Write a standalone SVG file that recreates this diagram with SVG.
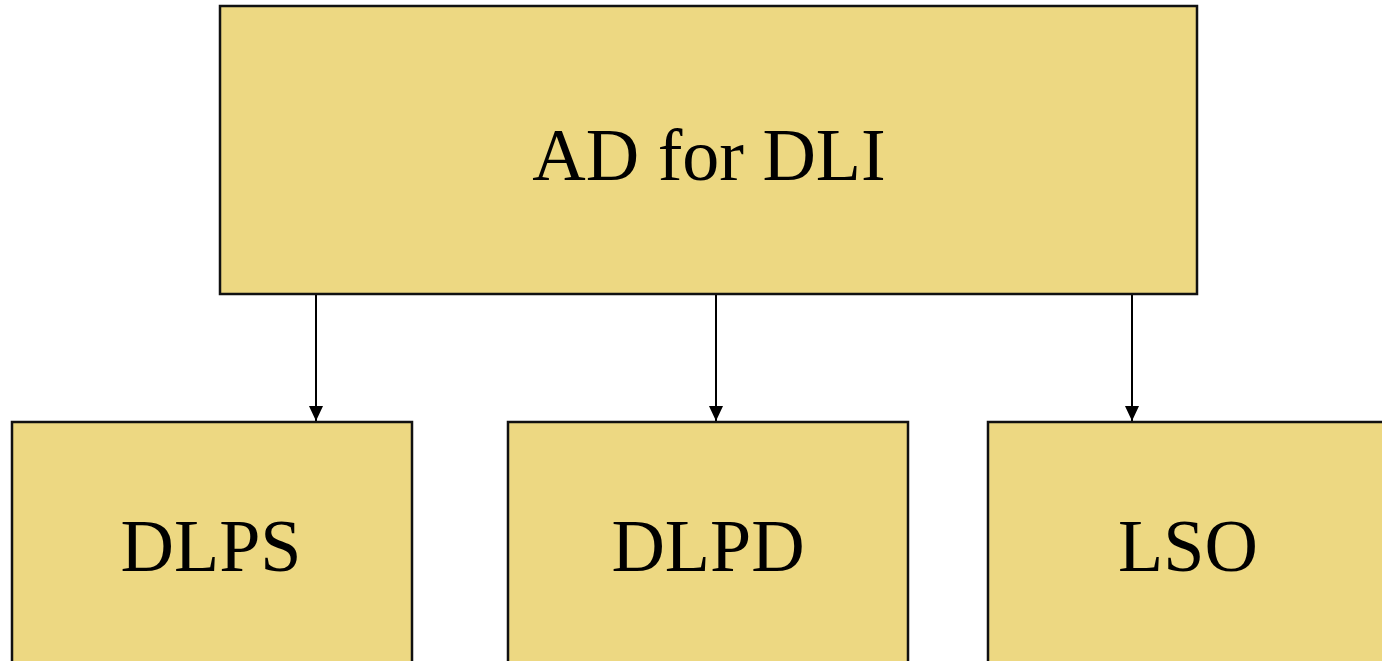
<svg xmlns="http://www.w3.org/2000/svg" width="1382" height="661" viewBox="0 0 1382 661">
<style>
.box{fill:#EDD882;stroke:#111;stroke-width:2.5}
.lbl{font-family:"Liberation Serif","Times New Roman",serif;font-size:74px;fill:#000;text-anchor:middle}
.edge{stroke:#000;stroke-width:2;fill:none}
</style>
<defs>
<marker id="ah" viewBox="0 0 15 14" refX="15" refY="7" markerWidth="15" markerHeight="14" markerUnits="userSpaceOnUse" orient="auto">
<path d="M0,0 L15,7 L0,14 Z" fill="#000"/>
</marker>
</defs>
<rect width="1382" height="661" fill="#fff"/>
<g id="connectors">
<line class="edge" x1="316" y1="294" x2="316" y2="421" marker-end="url(#ah)"/>
<line class="edge" x1="716" y1="294" x2="716" y2="421" marker-end="url(#ah)"/>
<line class="edge" x1="1132" y1="294" x2="1132" y2="421" marker-end="url(#ah)"/>
</g>
<g id="ad-for-dli">
<rect class="box" x="220" y="6" width="977" height="288"/>
<text class="lbl" x="709" y="180">AD for DLI</text>
</g>
<g id="dlps">
<rect class="box" x="12" y="422" width="400" height="260"/>
<text class="lbl" x="211" y="571">DLPS</text>
</g>
<g id="dlpd">
<rect class="box" x="508" y="422" width="400" height="260"/>
<text class="lbl" x="708" y="571">DLPD</text>
</g>
<g id="lso">
<rect class="box" x="988" y="422" width="400" height="260"/>
<text class="lbl" x="1188" y="571">LSO</text>
</g>
</svg>
